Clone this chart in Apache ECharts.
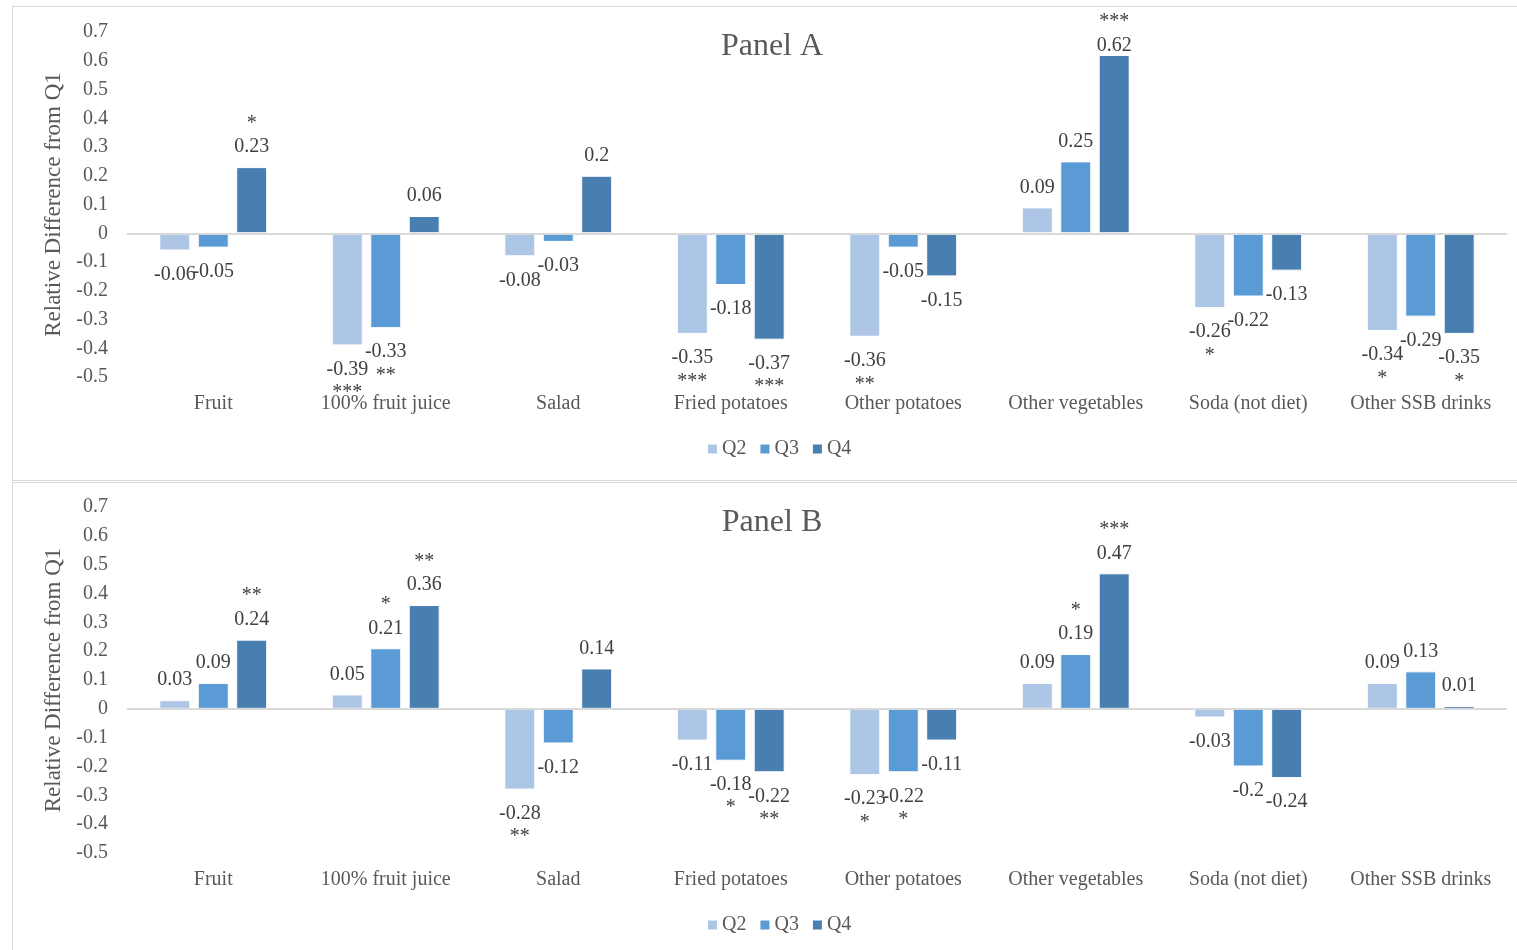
<!DOCTYPE html>
<html>
<head>
<meta charset="utf-8">
<title>Relative Difference from Q1</title>
<script src="https://cdn.jsdelivr.net/npm/echarts@6/dist/echarts.min.js"></script>
<style>
  html, body { margin: 0; padding: 0; background: #fff; overflow: hidden; }
  .frame { position: absolute; border: 1px solid #d9d9d9; box-sizing: border-box; }
  #chart { position: absolute; left: 0; top: 0; width: 1517px; height: 950px; }
</style>
</head>
<body>
<div class="frame" style="left:12px; top:6px; width:1520px; height:475px;"></div>
<div class="frame" style="left:12px; top:482px; width:1520px; height:480px;"></div>
<div id="chart"></div>
<script>
var categories = ['Fruit', '100% fruit juice', 'Salad', 'Fried potatoes', 'Other potatoes', 'Other vegetables', 'Soda (not diet)', 'Other SSB drinks']

// Panel A
var aQ2 = [-0.06, -0.39, -0.08, -0.35, -0.36, 0.09, -0.26, -0.34]
var aQ3 = [-0.05, -0.33, -0.03, -0.18, -0.05, 0.25, -0.22, -0.29]
var aQ4 = [0.23, 0.06, 0.2, -0.37, -0.15, 0.62, -0.13, -0.35]
var aQ2Stars = ['', '***', '', '***', '**', '', '*', '*']
var aQ3Stars = ['', '**', '', '', '', '', '', '']
var aQ4Stars = ['*', '', '', '***', '', '***', '', '*']

// Panel B
var bQ2 = [0.03, 0.05, -0.28, -0.11, -0.23, 0.09, -0.03, 0.09]
var bQ3 = [0.09, 0.21, -0.12, -0.18, -0.22, 0.19, -0.2, 0.13]
var bQ4 = [0.24, 0.36, 0.14, -0.22, -0.11, 0.47, -0.24, 0.01]
var bQ2Stars = ['', '', '**', '', '*', '', '', '']
var bQ3Stars = ['', '*', '', '*', '*', '*', '', '']
var bQ4Stars = ['**', '**', '', '**', '', '***', '', '']

var yTicks = { min: -0.5, max: 0.7, interval: 0.1 }
var seriesNames = ['Q2', 'Q3', 'Q4']
var colors = ['#adc6e6', '#5b9bd5', '#497eb0']

var FONT = "'Liberation Serif', 'Times New Roman', serif"
var GREY = '#595959'

function makeSeries(name, values, stars, idx, color, withZero) {
  var s = {
    name: name,
    type: 'bar',
    xAxisIndex: idx,
    yAxisIndex: idx,
    barWidth: 31,
    barGap: '24%',
    itemStyle: { color: color, borderColor: '#ffffff', borderWidth: 1 },
    data: values.map(function(v) {
      return { value: v, label: v >= 0 ? { position: 'top', distance: 9 } : { position: 'bottom', distance: 13 } }
    }),
    label: {
      show: true,
      fontFamily: FONT,
      formatter: function(p) {
        var st = stars[p.dataIndex]
        var v = '{v|' + p.value + '}'
        if (!st) return v
        return p.value >= 0 ? '{s|' + st + '}\n' + v : v + '\n{n|' + st + '}'
      },
      rich: {
        v: { fontFamily: FONT, fontSize: 20, color: '#404040', lineHeight: 22 },
        s: { fontFamily: FONT, fontSize: 20, color: '#404040', lineHeight: 22, padding: [0, 0, 3, 0] },
        n: { fontFamily: FONT, fontSize: 20, color: '#404040', lineHeight: 22, padding: [3, 0, 0, 0] }
      }
    },
    // keep labels inside the chart area, like the spreadsheet does
    labelLayout: function(p) {
      if (p.labelRect.y < 12) return { dy: 12 - p.labelRect.y }
      return {}
    }
  }
  if (withZero) {
    s.markLine = {
      silent: true,
      symbol: 'none',
      label: { show: false },
      lineStyle: { color: '#d9d9d9', width: 2, type: 'solid' },
      data: [{ yAxis: 0 }]
    }
  }
  return s
}

function makeXAxis(idx) {
  return {
    type: 'category',
    gridIndex: idx,
    data: categories,
    axisLine: { show: false, onZero: false },
    axisTick: { show: false },
    axisLabel: { color: GREY, fontFamily: FONT, fontSize: 20, margin: 17, interval: 0 }
  }
}

function makeYAxis(idx) {
  return {
    type: 'value',
    gridIndex: idx,
    min: yTicks.min,
    max: yTicks.max,
    interval: yTicks.interval,
    name: 'Relative Difference from Q1',
    nameLocation: 'middle',
    nameGap: 61,
    nameTextStyle: { color: GREY, fontFamily: FONT, fontSize: 23 },
    axisLine: { show: false },
    axisTick: { show: false },
    splitLine: { show: false },
    axisLabel: {
      color: GREY, fontFamily: FONT, fontSize: 20, margin: 19,
      formatter: function(v) { return String(Math.round(v * 10) / 10) }
    }
  }
}

function makeLegend(top) {
  return {
    top: top,
    left: 701,
    data: seriesNames,
    itemWidth: 11,
    itemHeight: 11,
    itemGap: 12,
    icon: 'rect',
    textStyle: { color: GREY, fontFamily: FONT, fontSize: 20, padding: [0, 0, 0, -1] }
  }
}

var chart = echarts.init(document.getElementById('chart'))
chart.setOption({
  animation: false,
  title: [
    { text: 'Panel A', left: 767, top: 26, textAlign: 'center', textStyle: { color: GREY, fontFamily: FONT, fontSize: 32, fontWeight: 'normal' } },
    { text: 'Panel B', left: 767, top: 502, textAlign: 'center', textStyle: { color: GREY, fontFamily: FONT, fontSize: 32, fontWeight: 'normal' } }
  ],
  legend: [makeLegend(434), makeLegend(910)],
  grid: [
    { left: 127, top: 32, width: 1380, height: 345 },
    { left: 127, top: 507, width: 1380, height: 346 }
  ],
  xAxis: [makeXAxis(0), makeXAxis(1)],
  yAxis: [makeYAxis(0), makeYAxis(1)],
  series: [
    makeSeries('Q2', aQ2, aQ2Stars, 0, colors[0], true),
    makeSeries('Q3', aQ3, aQ3Stars, 0, colors[1], false),
    makeSeries('Q4', aQ4, aQ4Stars, 0, colors[2], false),
    makeSeries('Q2', bQ2, bQ2Stars, 1, colors[0], true),
    makeSeries('Q3', bQ3, bQ3Stars, 1, colors[1], false),
    makeSeries('Q4', bQ4, bQ4Stars, 1, colors[2], false)
  ]
})
</script>
</body>
</html>
